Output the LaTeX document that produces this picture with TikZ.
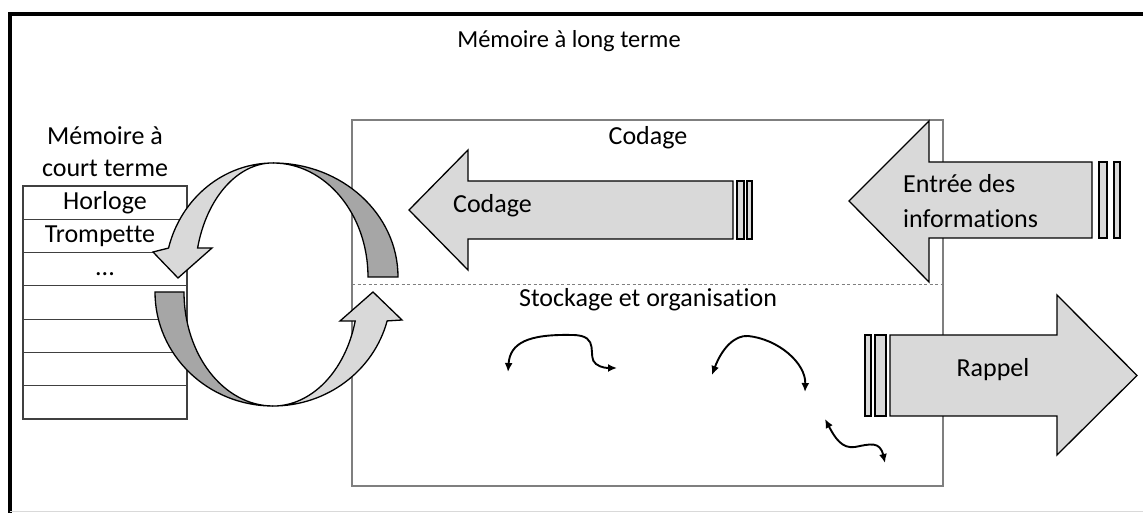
\documentclass[tikz,border=0pt]{standalone}
\usepackage{fontspec}
\setmainfont{Carlito}[Ligatures={NoCommon}]
\usetikzlibrary{arrows.meta}
\definecolor{lightfill}{HTML}{D9D9D9}
\definecolor{darkfill}{HTML}{A6A6A6}
\definecolor{boxgray}{HTML}{7F7F7F}
\begin{document}
\begin{tikzpicture}[x=1pt,y=1pt,
  txt/.style={font=\fontsize{26}{31}\selectfont, inner sep=0pt, anchor=base, text=black},
  bigarrow/.style={fill=lightfill, draw=black, line width=1.3pt, line join=miter},
  darkband/.style={fill=darkfill, draw=black, line width=1.3pt},
  cell/.style={draw=black!75, line width=1.2pt},
  squiggle/.style={draw=black, line width=1.9pt, {Latex[length=9pt,width=8pt]}-{Latex[length=9pt,width=8pt]}}
]
\useasboundingbox (0,0) rectangle (1143,513);
\begin{scope}
\clip (0,0) rectangle (1143,513);
% outer frame
\draw[line width=4pt] (9.5,-10) -- (9.5,499) -- (1160,499);
\draw[black!15, line width=1pt] (9.5,1) -- (1143,1);
\end{scope}

% long-term memory box
\draw[boxgray, line width=1.4pt] (352,27) rectangle (943,393);
\draw[boxgray, line width=1pt, dash pattern=on 3pt off 2.5pt] (352,228) -- (943,228);

\node[txt, font=\fontsize{24.5}{30}\selectfont] (title) at (569,465) {Mémoire à long terme};
\node[txt] (codtitle) at (648,368) {Codage};
\node[txt] (stock) at (648,206) {Stockage et organisation};

% short-term memory table
\node[txt] (st1) at (105,368) {Mémoire à};
\node[txt] (st2) at (105,336) {court terme};
\foreach \i in {0,...,6} {
  \draw[cell] (23,{327-33.29*\i}) rectangle (187,{327-33.29*(\i+1)});
}
\node[txt] (h) at (105,303) {Horloge};
\node[txt] (t) at (100,270) {Trompette};
\node[txt] (d) at (105,237) {...};

% circular arrows
\draw[darkband] (273,350) arc[start angle=90, end angle=0, x radius=125, y radius=114]
  -- (368,236) arc[start angle=0, end angle=90, x radius=95, y radius=114] -- cycle;
\draw[darkband] (155,221) arc[start angle=180, end angle=270, x radius=118, y radius=114]
  arc[start angle=270, end angle=180, x radius=89, y radius=114] -- cycle;
\draw[bigarrow] (273,350) arc[start angle=90, end angle=165.3, x radius=108, y radius=114]
  -- (153,261) -- (178,235) -- (212,265) -- (197.6,265)
  arc[start angle=165.3, end angle=90, x radius=78, y radius=114] -- cycle;
\draw[bigarrow] (273,107) arc[start angle=270, end angle=345.3, x radius=118, y radius=114]
  -- (402,193) -- (373,221) -- (340,192) -- (355.2,192)
  arc[start angle=345.3, end angle=270, x radius=85, y radius=114] -- cycle;

% Codage arrow
\draw[bigarrow] (409,303) -- (468,363) -- (468,332) -- (733,332) -- (733,274) -- (468,274) -- (468,243) -- cycle;
\draw[bigarrow] (737,332) rectangle (744,274);
\draw[bigarrow] (747,332) rectangle (752,274);
\node[txt] (cod) at (492.5,300) {Codage};

% Entree arrow
\draw[bigarrow] (849,312) -- (929,392) -- (929,351) -- (1092,351) -- (1092,275) -- (929,275) -- (929,231) -- cycle;
\draw[bigarrow] (1099,351) rectangle (1107,275);
\draw[bigarrow] (1114,351) rectangle (1120,275);
\node[txt, anchor=base west] (ent1) at (903,320) {Entrée des};
\node[txt, anchor=base west] (ent2) at (903,285) {informations};

% Rappel arrow
\draw[bigarrow] (890,178) -- (1057,178) -- (1057,218) -- (1137,137.5) -- (1057,58) -- (1057,97) -- (890,97) -- cycle;
\draw[bigarrow] (865,178) rectangle (871,97);
\draw[bigarrow] (875,178) rectangle (886,97);
\node[txt] (rap) at (993,136) {Rappel};

% squiggles
\coordinate (a1) at (508,141);
\coordinate (a2) at (617,145);
\coordinate (b1) at (712,138);
\coordinate (b2) at (805,121);
\coordinate (c1) at (825,94);
\coordinate (c2) at (885,50);
\draw[squiggle] (a1) .. controls (510,170) and (528,179) .. (572,178)
  .. controls (602,178) and (586,156) .. (596,149) .. controls (601,145) and (608,145) .. (a2);
\draw[squiggle] (b1) .. controls (722,165) and (735,178) .. (748,177)
  .. controls (778,174) and (806,150) .. (b2);
\draw[squiggle] (c1) .. controls (835,75) and (842,64) .. (855,66)
  .. controls (870,69) and (880,72) .. (c2);
\end{tikzpicture}
\end{document}
